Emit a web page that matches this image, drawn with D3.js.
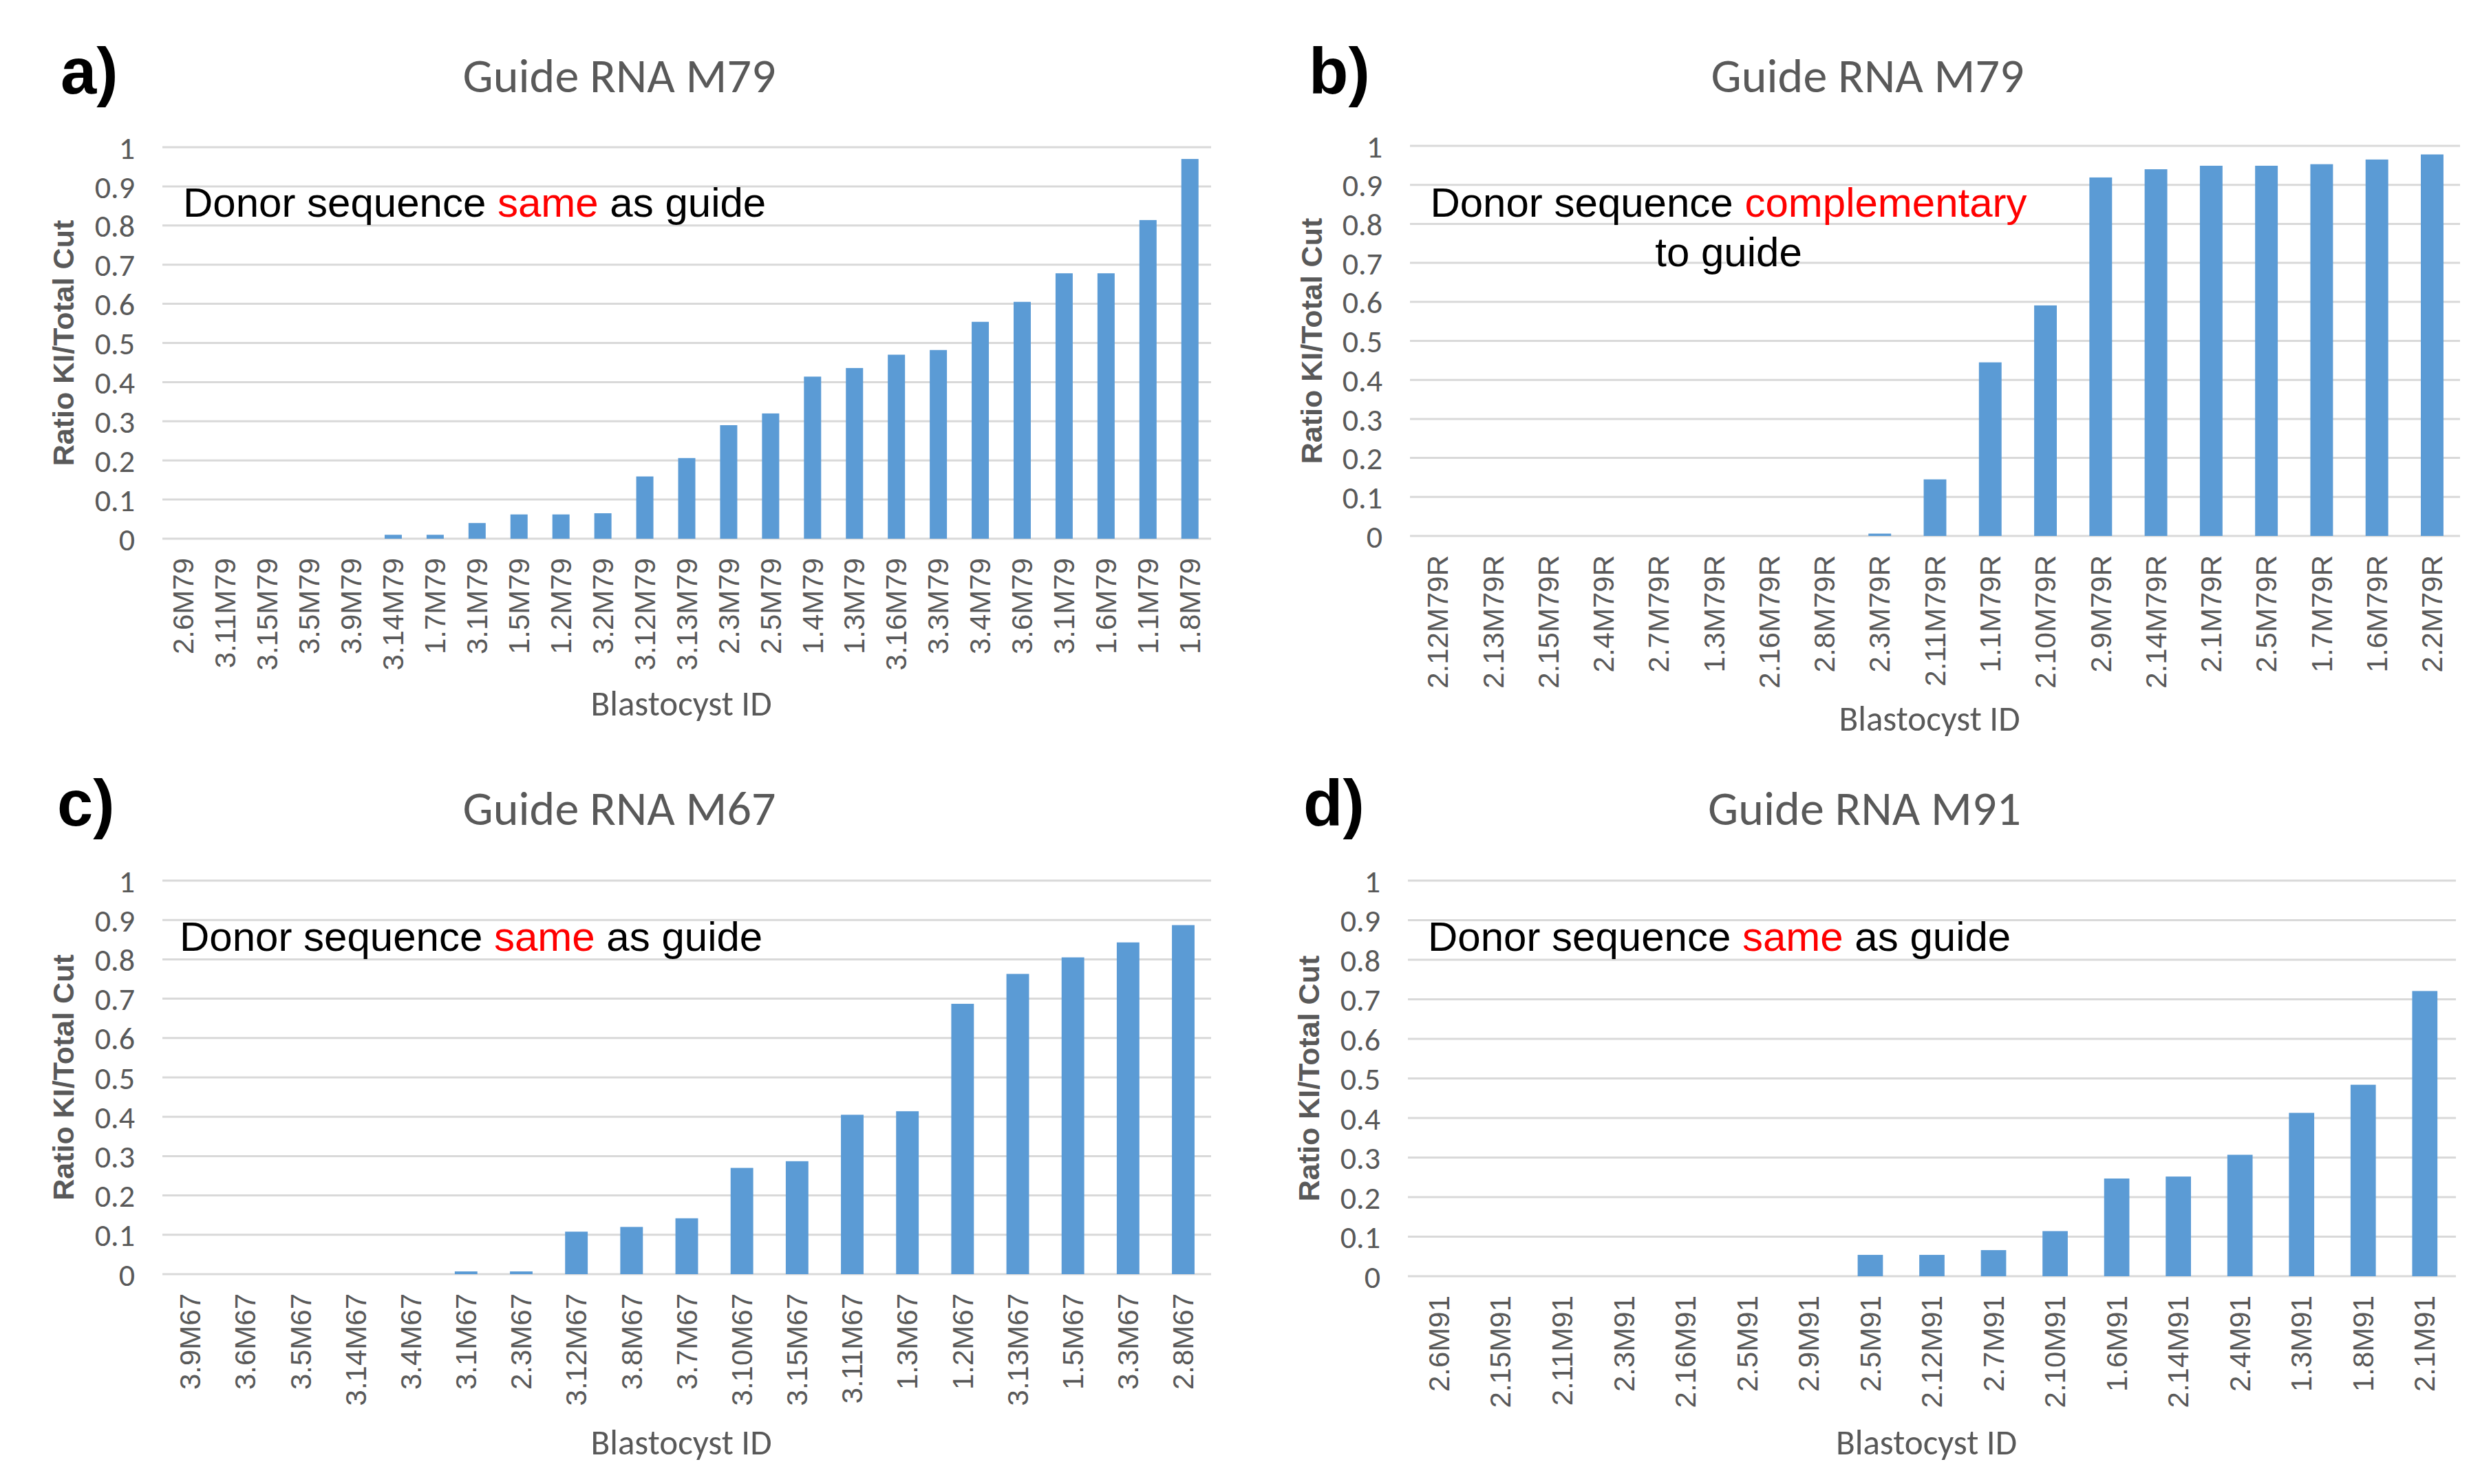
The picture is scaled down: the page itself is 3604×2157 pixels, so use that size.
<!DOCTYPE html>
<html>
<head>
<meta charset="utf-8">
<script src="https://cdn.jsdelivr.net/npm/d3@7"></script>
<style>
body { margin: 0; background: #fff; }
</style>
</head>
<body>
<div id="chart"></div>
<script>
// values, one pair of arrays per panel
const idsA = ["2.6M79", "3.11M79", "3.15M79", "3.5M79", "3.9M79", "3.14M79", "1.7M79", "3.1M79", "1.5M79", "1.2M79",
	"3.2M79", "3.12M79", "3.13M79", "2.3M79", "2.5M79", "1.4M79", "1.3M79", "3.16M79", "3.3M79", "3.4M79",
	"3.6M79", "3.1M79", "1.6M79", "1.1M79", "1.8M79"];
const valsA = [0, 0, 0, 0, 0, 0.01, 0.01, 0.04, 0.062, 0.062,
	0.065, 0.159, 0.206, 0.29, 0.32, 0.414, 0.436, 0.47, 0.482, 0.554,
	0.605, 0.678, 0.678, 0.814, 0.97];

const idsB = ["2.12M79R", "2.13M79R", "2.15M79R", "2.4M79R", "2.7M79R", "1.3M79R", "2.16M79R", "2.8M79R", "2.3M79R", "2.11M79R",
	"1.1M79R", "2.10M79R", "2.9M79R", "2.14M79R", "2.1M79R", "2.5M79R", "1.7M79R", "1.6M79R", "2.2M79R"];
const valsB = [0, 0, 0, 0, 0, 0, 0, 0, 0.006, 0.145,
	0.445, 0.591, 0.919, 0.94, 0.949, 0.949, 0.953, 0.965, 0.978];

const idsC = ["3.9M67", "3.6M67", "3.5M67", "3.14M67", "3.4M67", "3.1M67", "2.3M67", "3.12M67", "3.8M67", "3.7M67",
	"3.10M67", "3.15M67", "3.11M67", "1.3M67", "1.2M67", "3.13M67", "1.5M67", "3.3M67", "2.8M67"];
const valsC = [0, 0, 0, 0, 0, 0.007, 0.007, 0.108, 0.12, 0.142,
	0.27, 0.287, 0.405, 0.414, 0.687, 0.763, 0.805, 0.843, 0.887];

const idsD = ["2.6M91", "2.15M91", "2.11M91", "2.3M91", "2.16M91", "2.5M91", "2.9M91", "2.5M91", "2.12M91", "2.7M91",
	"2.10M91", "1.6M91", "2.14M91", "2.4M91", "1.3M91", "1.8M91", "2.1M91"];
const valsD = [0, 0, 0, 0, 0, 0, 0, 0.054, 0.054, 0.066,
	0.114, 0.247, 0.252, 0.307, 0.413, 0.484, 0.721];

const yTicks = [0, 0.1, 0.2, 0.3, 0.4, 0.5, 0.6, 0.7, 0.8, 0.9, 1];
const yTickLabels = ["0", "0.1", "0.2", "0.3", "0.4", "0.5", "0.6", "0.7", "0.8", "0.9", "1"];

const titles = ["Guide RNA M79", "Guide RNA M79", "Guide RNA M67", "Guide RNA M91"];
const letters = ["a)", "b)", "c)", "d)"];
const yTitle = "Ratio KI/Total Cut";
const xTitle = "Blastocyst ID";

// note text: [black, red, black] per line
const notes = [
	[["Donor sequence ", "same", " as guide"]],
	[["Donor sequence ", "complementary", ""], ["to guide", "", ""]],
	[["Donor sequence ", "same", " as guide"]],
	[["Donor sequence ", "same", " as guide"]]
];

const GRAY = "#595959";
const BLUE = "#5B9BD5";
const CALIBRI = "Carlito, Calibri, Lato, sans-serif";
const ARIAL = "'Liberation Sans', Arial, sans-serif";

// panel layout (plot rectangle, text anchors)
const layout = [
	{left: 236, right: 1760, top: 214, bottom: 783, letterX: 88, letterY: 136, titleY: 134, xTitleY: 1040, yTitleX: 92, noteX: 266, noteY: 315, noteAnchor: "start"},
	{left: 2049, right: 3575, top: 212, bottom: 779, letterX: 1902, letterY: 136, titleY: 134, xTitleY: 1062, yTitleX: 1906, noteX: 2512, noteY: 315, noteAnchor: "middle"},
	{left: 236, right: 1760, top: 1280, bottom: 1852, letterX: 83, letterY: 1200, titleY: 1199, xTitleY: 2114, yTitleX: 92, noteX: 261, noteY: 1382, noteAnchor: "start"},
	{left: 2046, right: 3569, top: 1280, bottom: 1855, letterX: 1894, letterY: 1200, titleY: 1199, xTitleY: 2114, yTitleX: 1902, noteX: 2075, noteY: 1382, noteAnchor: "start"}
];

const svg = d3.select("#chart")
	.append("svg")
	.attr("width", 3604)
	.attr("height", 2157)
	.style("background", "#fff");

const drawPanel = function(ids, vals, i) {
	const L = layout[i];
	const g = svg.append("g");

	// index-based band scale because some IDs repeat
	const x = d3.scaleBand()
		.domain(d3.range(ids.length))
		.range([L.left, L.right])
		.paddingInner(0.59)
		.paddingOuter(0.3);
	const y = d3.scaleLinear().domain([0, 1]).range([L.bottom, L.top]);

	// gridlines
	g.append("g")
		.selectAll("line")
		.data(yTicks)
		.join("line")
		.attr("x1", L.left)
		.attr("x2", L.right)
		.attr("y1", d => y(d))
		.attr("y2", d => y(d))
		.attr("stroke", "#d9d9d9")
		.attr("stroke-width", 3);

	// y axis labels
	const yAxis = g.append("g")
		.attr("transform", "translate(" + (L.left - 40) + ",0)")
		.call(d3.axisLeft(y).tickValues(yTicks).tickSize(0).tickPadding(0)
			.tickFormat((d, k) => yTickLabels[k]));
	yAxis.select(".domain").remove();
	yAxis.selectAll("text")
		.attr("font-family", CALIBRI)
		.attr("font-size", 46)
		.attr("fill", GRAY)
		.attr("dy", "0.35em");

	// bars
	g.append("g")
		.selectAll("rect")
		.data(vals)
		.join("rect")
		.attr("x", (d, k) => x(k))
		.attr("width", x.bandwidth())
		.attr("y", d => y(d))
		.attr("height", d => y(0) - y(d))
		.attr("fill", BLUE);

	// x axis labels, rotated
	const xAxis = g.append("g")
		.attr("transform", "translate(0," + (L.bottom + 28) + ")")
		.call(d3.axisBottom(x).tickSize(0).tickPadding(0).tickFormat(k => ids[k]));
	xAxis.select(".domain").remove();
	xAxis.selectAll("text")
		.attr("font-family", ARIAL)
		.attr("font-size", 42)
		.attr("fill", GRAY)
		.attr("text-anchor", "end")
		.attr("transform", "rotate(-90)")
		.attr("x", 0)
		.attr("y", 0)
		.attr("dy", "0.35em");

	// titles
	g.append("text")
		.attr("x", (L.left + L.right) / 2 - 98)
		.attr("y", L.titleY)
		.attr("text-anchor", "middle")
		.attr("font-family", CALIBRI)
		.attr("font-size", 70)
		.attr("fill", GRAY)
		.text(titles[i]);

	g.append("text")
		.attr("x", L.letterX)
		.attr("y", L.letterY)
		.attr("font-family", ARIAL)
		.attr("font-weight", "bold")
		.attr("font-size", 94)
		.attr("fill", "#000")
		.text(letters[i]);

	g.append("text")
		.attr("x", (L.left + L.right) / 2 - 8)
		.attr("y", L.xTitleY)
		.attr("text-anchor", "middle")
		.attr("font-family", CALIBRI)
		.attr("font-size", 51)
		.attr("fill", GRAY)
		.text(xTitle);

	g.append("text")
		.attr("transform", "translate(" + L.yTitleX + "," + ((L.top + L.bottom) / 2) + ") rotate(-90)")
		.attr("text-anchor", "middle")
		.attr("dy", "0.35em")
		.attr("font-family", ARIAL)
		.attr("font-weight", "bold")
		.attr("font-size", 43)
		.attr("fill", GRAY)
		.text(yTitle);

	// annotation
	notes[i].forEach(function(parts, line) {
		const t = g.append("text")
			.attr("x", L.noteX)
			.attr("y", L.noteY + line * 72)
			.attr("text-anchor", L.noteAnchor)
			.attr("font-family", ARIAL)
			.attr("font-size", 60)
			.attr("fill", "#000");
		t.append("tspan").text(parts[0]);
		if (parts[1]) t.append("tspan").attr("fill", "#ff0000").text(parts[1]);
		if (parts[2]) t.append("tspan").text(parts[2]);
	});
};

drawPanel(idsA, valsA, 0);
drawPanel(idsB, valsB, 1);
drawPanel(idsC, valsC, 2);
drawPanel(idsD, valsD, 3);
</script>
</body>
</html>
